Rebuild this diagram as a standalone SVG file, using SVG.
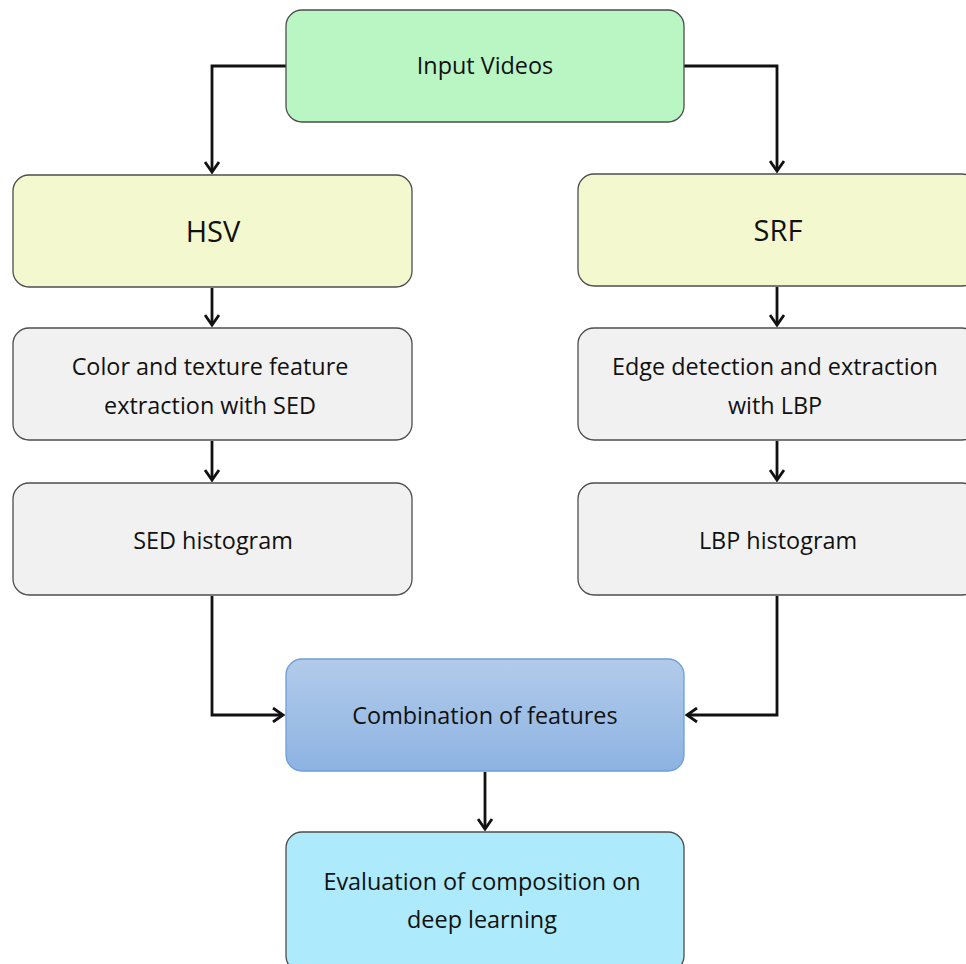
<svg xmlns="http://www.w3.org/2000/svg" width="966" height="964" viewBox="0 0 966 964">
<style>
.box{stroke:#4d4d4d;stroke-width:1.3}
.t{font-family:"Open Sans","Liberation Sans",sans-serif;font-size:23.4px;fill:#111;text-anchor:middle}
.big{font-size:29px}
.c{fill:none;stroke:#111;stroke-width:2.8}
</style>
<defs>
<marker id="ah" markerWidth="16" markerHeight="16" refX="13" refY="8" orient="auto" markerUnits="userSpaceOnUse">
<path d="M3,1 L13,8 L3,15" fill="none" stroke="#111" stroke-width="2.8"/>
</marker>
<linearGradient id="gb" x1="0" y1="0" x2="0" y2="1">
<stop offset="0" stop-color="#b2cbea"/>
<stop offset="1" stop-color="#8db3e2"/>
</linearGradient>
</defs>
<rect width="966" height="964" fill="#fff"/>
<g id="connectors">
<path class="c" d="M286,66 H212 V172" marker-end="url(#ah)"/>
<path class="c" d="M684,66 H777 V171" marker-end="url(#ah)"/>
<path class="c" d="M212,288 V325" marker-end="url(#ah)"/>
<path class="c" d="M777,287 V325" marker-end="url(#ah)"/>
<path class="c" d="M212,441 V480" marker-end="url(#ah)"/>
<path class="c" d="M777,441 V480" marker-end="url(#ah)"/>
<path class="c" d="M212,596 V715 H283" marker-end="url(#ah)"/>
<path class="c" d="M777,596 V715 H687" marker-end="url(#ah)"/>
<path class="c" d="M485,772 V829" marker-end="url(#ah)"/>
</g>
<g id="input">
<rect class="box" x="286" y="10" width="398" height="112" rx="16" fill="#baf5c4"/>
<text class="t" x="485" y="74">Input Videos</text>
</g>
<g id="hsv">
<rect class="box" x="13" y="175" width="399" height="112" rx="16" fill="#f3f8cf"/>
<text class="t big" x="213" y="242">HSV</text>
</g>
<g id="srf">
<rect class="box" x="578" y="174" width="400" height="112" rx="16" fill="#f3f8cf"/>
<text class="t big" x="778" y="241">SRF</text>
</g>
<g id="sed">
<rect class="box" x="13" y="328" width="399" height="112" rx="16" fill="#f1f1f1"/>
<text class="t" x="210" y="375">Color and texture feature</text>
<text class="t" x="210" y="414">extraction with SED</text>
</g>
<g id="lbp">
<rect class="box" x="578" y="328" width="400" height="112" rx="16" fill="#f1f1f1"/>
<text class="t" x="775" y="375">Edge detection and extraction</text>
<text class="t" x="775" y="414">with LBP</text>
</g>
<g id="sedhist">
<rect class="box" x="13" y="483" width="399" height="112" rx="16" fill="#f1f1f1"/>
<text class="t" x="213" y="549">SED histogram</text>
</g>
<g id="lbphist">
<rect class="box" x="578" y="483" width="400" height="112" rx="16" fill="#f1f1f1"/>
<text class="t" x="778" y="549">LBP histogram</text>
</g>
<g id="combination">
<rect x="286" y="659" width="398" height="112" rx="16" fill="url(#gb)" stroke="#6d9edb" stroke-width="1.3"/>
<text class="t" x="485" y="724">Combination of features</text>
</g>
<g id="evaluation">
<rect class="box" x="286" y="832" width="398" height="140" rx="16" fill="#adeafb"/>
<text class="t" x="482" y="890">Evaluation of composition on</text>
<text class="t" x="482" y="928">deep learning</text>
</g>
</svg>
